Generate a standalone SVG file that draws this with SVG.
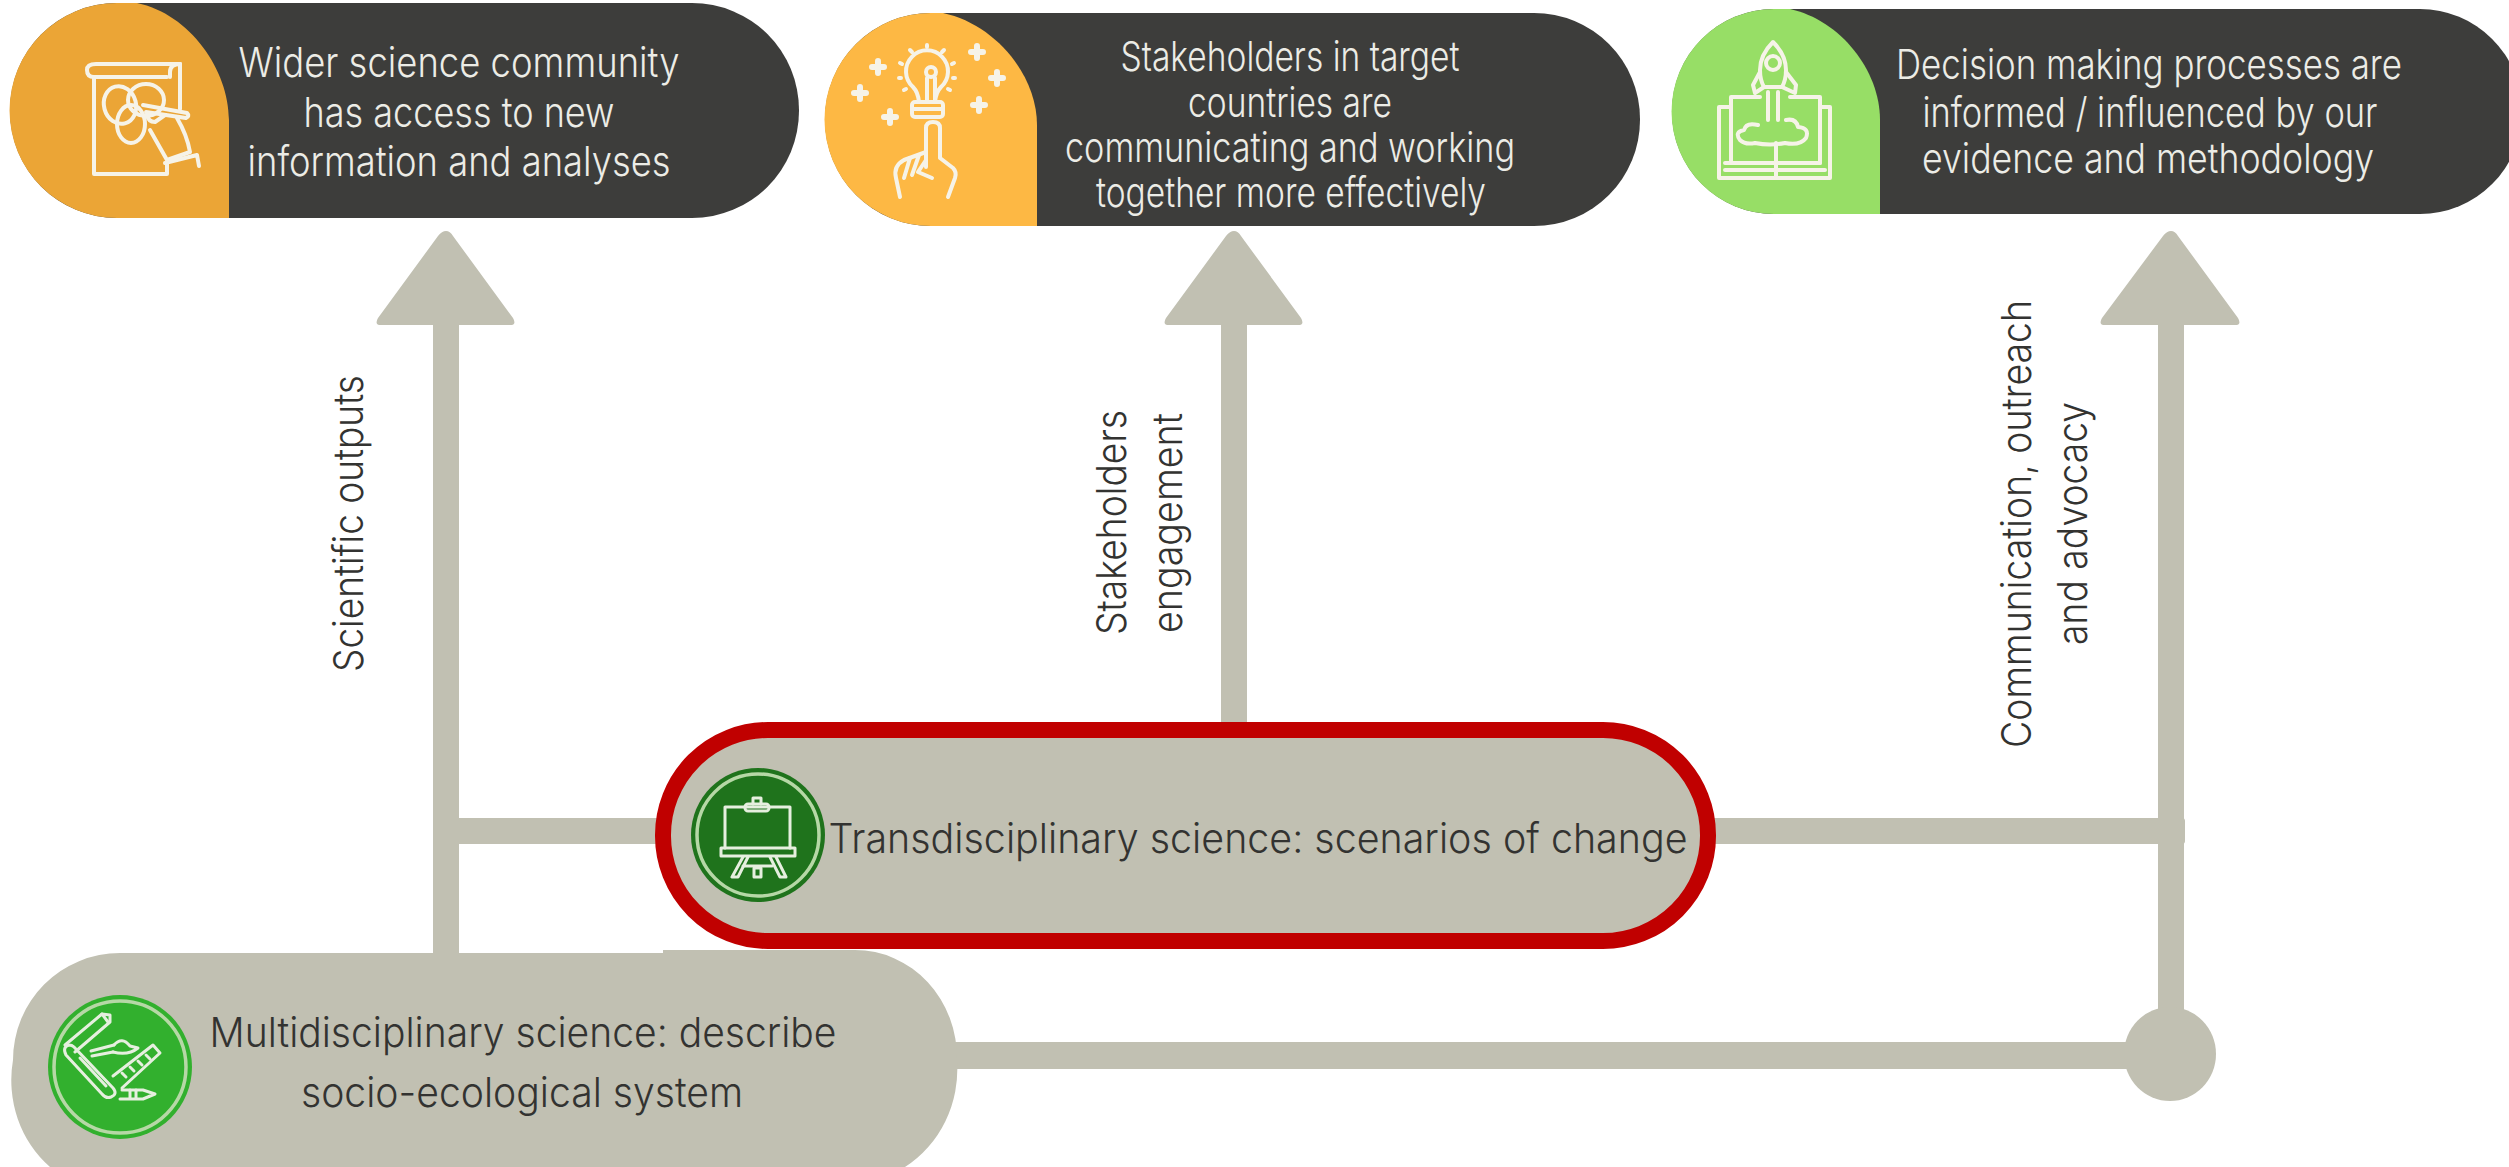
<svg xmlns="http://www.w3.org/2000/svg" width="2509" height="1167" viewBox="0 0 2509 1167">
<style>
.t{font-family:Inter,"Liberation Sans",sans-serif;font-weight:300;text-anchor:middle}
.lt{fill:#ecece6;font-size:41px}
.dk{fill:#333331;font-size:41px}
.dark{fill:#3d3d3b}
.grey{fill:#c1c0b2}
.ic{fill:none;stroke:#f6f3e8;stroke-width:4;stroke-linecap:round;stroke-linejoin:round}
.ic2{fill:none;stroke:#e6efdf;stroke-width:3;stroke-linecap:round;stroke-linejoin:round}
.ring{fill:none;stroke:#b6d8a6;stroke-width:3.5}
</style>
<rect width="2509" height="1167" fill="#fff"/>
<g id="connectors" class="grey">
<path d="M446 231Q450 231 453 236L513 318Q517 325 510 325H381Q374 325 378 318L438 236Q442 231 446 231Z"/>
<path d="M1234 231Q1238 231 1241 236L1301 318Q1305 325 1298 325H1169Q1162 325 1166 318L1226 236Q1230 231 1234 231Z"/>
<path d="M2171 231Q2175 231 2178 236L2238 318Q2242 325 2235 325H2105Q2098 325 2102 318L2163 236Q2167 231 2171 231Z"/>
<rect x="433" y="320" width="26" height="640"/>
<rect x="1221" y="320" width="26" height="410"/>
<rect x="2158" y="320" width="26" height="700"/>
<rect x="455" y="818" width="210" height="26"/>
<rect x="1710" y="818" width="475" height="26" rx="3"/>
<rect x="940" y="1042" width="1190" height="27"/>
<ellipse cx="2170" cy="1054" rx="46" ry="47"/>
</g>
<g id="node-science-community">
<rect class="dark" x="10" y="3" width="789" height="215" rx="107"/>
<path fill="#eba536" d="M229 218H117A107 107 0 0 1 117 3H137C190 14 229 70 229 120Z"/>
<g class="ic">
<path d="M180 64H96Q87 64 87 70Q87 77 94 77H167"/>
<path d="M180 64Q170 64 170 72V77"/>
<path d="M180 64V109"/>
<path d="M94 77V174H167V164"/>
<ellipse cx="120" cy="105" rx="16" ry="19" transform="rotate(-15 120 105)"/>
<ellipse cx="146" cy="100" rx="18" ry="16"/>
<ellipse cx="131" cy="124" rx="14" ry="19"/>
<path d="M143 105L187 113Q190 116 186 118L146 112"/>
<path d="M147 114Q148 122 155 122L165 115"/>
<path d="M177 118Q187 135 190 152L167 160L150 130"/>
<path d="M165 163L197 155L199 166"/>
</g>
<text class="t lt" x="459" y="77" textLength="441" lengthAdjust="spacingAndGlyphs">Wider science community</text>
<text class="t lt" x="459" y="127" textLength="311" lengthAdjust="spacingAndGlyphs">has access to new</text>
<text class="t lt" x="459" y="176" textLength="423" lengthAdjust="spacingAndGlyphs">information and analyses</text>
</g>
<g id="node-stakeholders">
<rect class="dark" x="825" y="13" width="815" height="213" rx="106"/>
<path fill="#fdb844" d="M1037 226H931A106 106 0 0 1 931 13H943C995 24 1037 75 1037 125Z"/>
<g class="ic">
<path d="M919 102Q918 92 913 87A21 21 0 1 1 941 87Q936 92 935 102"/>
<path d="M927 102V78M935 102V78"/>
<circle cx="931" cy="72" r="5"/>
<rect x="912" y="102" width="31" height="15" rx="3"/>
<path d="M912 109H943"/>
<path d="M926 167V128Q926 122 933 122Q940 122 940 128V158L953 168Q957 172 955 178L948 197"/>
<path d="M926 152L904 160Q893 166 896 178L900 197"/>
<path d="M910 158L904 178M919 155L912 175M926 160L918 172L932 178"/>
<path stroke-width="6" d="M878 61V73M872 67H884M860 87V99M854 93H866M890 111V123M884 117H896M977 46V58M971 52H983M997 72V84M991 78H1003M979 99V111M973 105H985"/>
<path d="M927 45V47M910 50L912 52M944 50L942 52M900 63L902 64M954 63L952 64M899 78H901M953 78H955M904 90L906 89M950 90L948 89"/>
</g>
<text class="t lt" x="1290" y="71" textLength="339" lengthAdjust="spacingAndGlyphs">Stakeholders in target</text>
<text class="t lt" x="1290" y="117" textLength="204" lengthAdjust="spacingAndGlyphs">countries are</text>
<text class="t lt" x="1290" y="162" textLength="450" lengthAdjust="spacingAndGlyphs">communicating and working</text>
<text class="t lt" x="1291" y="207" textLength="390" lengthAdjust="spacingAndGlyphs">together more effectively</text>
</g>
<g id="node-decision">
<rect class="dark" x="1672" y="9" width="850" height="205" rx="102"/>
<path fill="#97de66" d="M1880 214H1774A102 102 0 0 1 1774 9H1790C1840 20 1880 70 1880 120Z"/>
<g class="ic">
<path d="M1773 42Q1760 55 1760 70Q1760 80 1764 87H1782Q1786 80 1786 70Q1786 55 1773 42Z"/>
<circle cx="1773" cy="63" r="7"/>
<path d="M1760 72L1753 85L1755 93L1764 87M1786 72L1796 85L1795 93L1782 87"/>
<path d="M1768 92V120M1778 92V120"/>
<path d="M1760 97H1731V163H1776H1820V97H1790"/>
<path d="M1731 107H1719V178H1830V107H1820"/>
<path d="M1725 163H1820M1725 170H1825"/>
<path d="M1776 143V178"/>
<path d="M1758 125Q1746 122 1744 130Q1734 132 1740 140Q1745 145 1755 143Q1770 146 1785 143Q1800 146 1806 138Q1810 128 1798 127Q1796 118 1786 120"/>
</g>
<text class="t lt" x="2149" y="79" textLength="506" lengthAdjust="spacingAndGlyphs">Decision making processes are</text>
<text class="t lt" x="2150" y="127" textLength="455" lengthAdjust="spacingAndGlyphs">informed / influenced by our</text>
<text class="t lt" x="2148" y="173" textLength="452" lengthAdjust="spacingAndGlyphs">evidence and methodology</text>
</g>
<g id="node-multidisciplinary">
<path class="grey" d="M120 953H663V950H855A102 108 0 0 1 957 1060A110 115 0 0 1 905 1167H50A105 112 0 0 1 13 1060A107 107 0 0 1 120 953Z"/>
<circle cx="120" cy="1067" r="72" fill="#32b02e"/>
<circle class="ring" cx="120" cy="1067" r="66"/>
<g class="ic2">
<path d="M65 1045L102 1014L110 1015L110 1022L75 1052"/>
<path d="M102 1014L108 1022"/>
<path d="M91 1051L114 1045M92 1056L113 1052"/>
<path d="M114 1045Q122 1036 130 1046L138 1048Q128 1056 113 1052"/>
<path d="M74 1047L113 1088Q118 1094 111 1097Q106 1099 102 1094L66 1055Q62 1047 69 1045Q72 1045 74 1047Z"/>
<path d="M80 1058L106 1086"/>
<path d="M113 1076L153 1045L160 1053L122 1088"/>
<path d="M122 1073L126 1077M130 1067L134 1071M138 1061L142 1065M146 1055L150 1059"/>
<path d="M122 1090H143L155 1094L143 1099H120"/>
<path d="M130 1090V1098M136 1090V1098"/>
</g>
<text class="t dk" x="523" y="1047" textLength="627" lengthAdjust="spacingAndGlyphs">Multidisciplinary science: describe</text>
<text class="t dk" x="522" y="1107" textLength="442" lengthAdjust="spacingAndGlyphs">socio-ecological system</text>
</g>
<g id="node-transdisciplinary">
<rect class="grey" x="663" y="730" width="1045" height="211" rx="105" stroke="#c00000" stroke-width="16"/>
<circle cx="758" cy="835" r="67" fill="#1f731c"/>
<circle class="ring" cx="758" cy="835" r="61"/>
<g class="ic2">
<path d="M725 848V807H790V848"/>
<rect x="721" y="848" width="74" height="8"/>
<rect x="745" y="804" width="24" height="7" rx="3"/>
<path d="M753 804V798H761V804"/>
<path d="M743 857L732 877H738L748 857M770 857L780 877H786L776 857"/>
<path d="M743 866H772"/>
<rect x="754" y="868" width="7" height="9"/>
</g>
<text class="t dk" x="1258" y="853" textLength="859" lengthAdjust="spacingAndGlyphs">Transdisciplinary science: scenarios of change</text>
</g>
<g id="labels">
<text class="t dk" transform="translate(363 523.5) rotate(-90)" textLength="297" lengthAdjust="spacingAndGlyphs">Scientific outputs</text>
<text class="t dk" transform="translate(1126 522.5) rotate(-90)" textLength="225" lengthAdjust="spacingAndGlyphs">Stakeholders</text>
<text class="t dk" transform="translate(1182 523) rotate(-90)" textLength="220" lengthAdjust="spacingAndGlyphs">engagement</text>
<text class="t dk" transform="translate(2031 524) rotate(-90)" textLength="448" lengthAdjust="spacingAndGlyphs">Communication, outreach</text>
<text class="t dk" transform="translate(2087 523.5) rotate(-90)" textLength="243" lengthAdjust="spacingAndGlyphs">and advocacy</text>
</g>
</svg>
